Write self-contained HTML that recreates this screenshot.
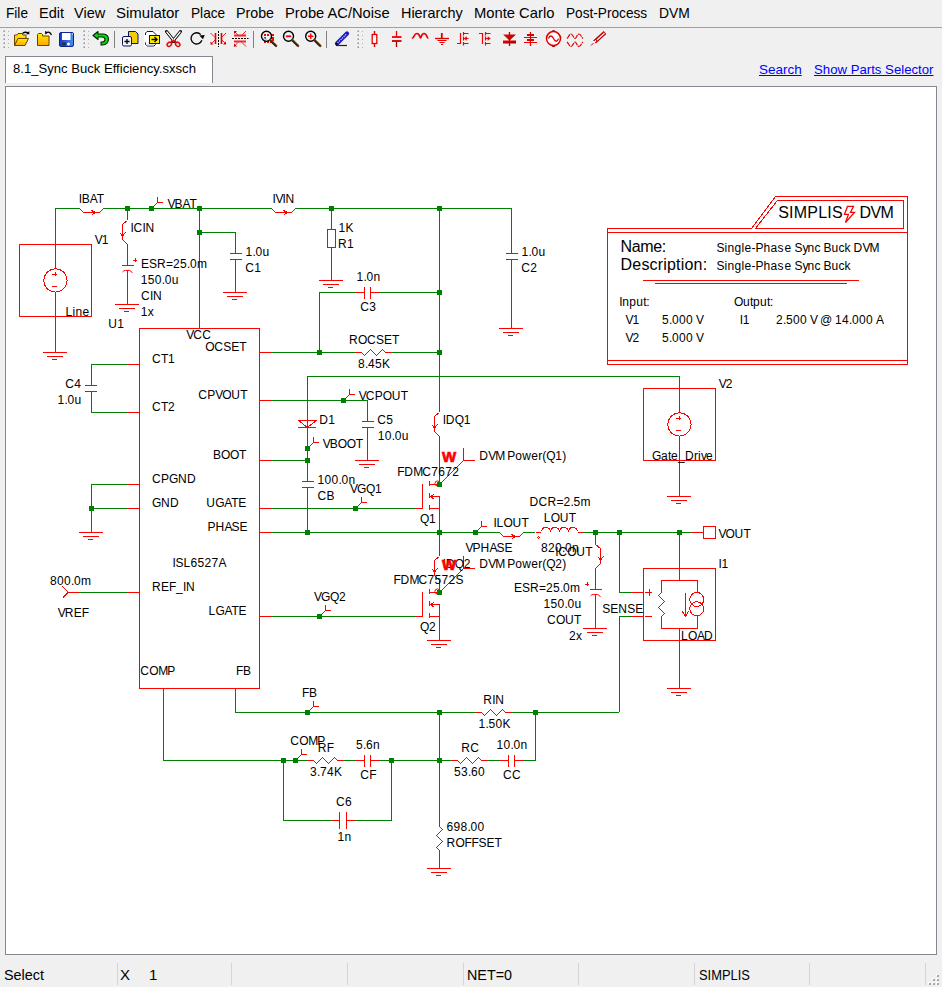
<!DOCTYPE html>
<html><head><meta charset="utf-8"><title>SIMPLIS</title>
<style>
html,body{margin:0;padding:0;}
body{width:942px;height:987px;background:#f0f0f0;position:relative;overflow:hidden;font-family:"Liberation Sans",sans-serif;color:#000;}
.menu span,.status span,.tab span,.lnk{transform-origin:0 0;}
.menu span{position:absolute;top:4px;font-size:15px;line-height:18px;white-space:nowrap;color:#000;}
.mline{position:absolute;left:0;top:27px;width:942px;height:1px;background:#a0a0a0;}
.tab{position:absolute;left:5px;top:56px;width:208px;height:27px;background:#fff;border-left:1px solid #828790;border-top:1px solid #828790;border-right:1px solid #828790;box-sizing:border-box;}
.tab span{position:absolute;left:7px;top:4px;font-size:13.1px;line-height:15px;white-space:nowrap;}
.lnk{position:absolute;top:62px;font-size:13.5px;line-height:15px;color:#0000ff;text-decoration:underline;white-space:nowrap;}
.canvas{position:absolute;left:5px;top:86px;width:932px;height:869px;background:#fff;border:1px solid #828790;box-sizing:border-box;}
.status span{position:absolute;top:966px;font-size:15px;line-height:18px;white-space:nowrap;color:#000;}
.status i{position:absolute;top:963px;width:1px;height:22px;background:#d4d4d4;}
svg{position:absolute;left:0;top:0;}
</style></head>
<body>
<div class="menu">
<span style="left:5.5px;transform:scaleX(.91)">File</span><span style="left:38.5px;transform:scaleX(.967)">Edit</span><span style="left:74px;transform:scaleX(.97)">View</span><span style="left:116px">Simulator</span><span style="left:190.5px;transform:scaleX(.91)">Place</span><span style="left:235.5px;transform:scaleX(.95)">Probe</span><span style="left:285px;transform:scaleX(.98)">Probe AC/Noise</span><span style="left:401px;transform:scaleX(.96)">Hierarchy</span><span style="left:474px;transform:scaleX(.984)">Monte Carlo</span><span style="left:566px;transform:scaleX(.91)">Post-Process</span><span style="left:659px;transform:scaleX(.925)">DVM</span>
</div>
<div class="mline"></div>
<div class="tab"><span>8.1_Sync Buck Efficiency.sxsch</span></div>
<span class="lnk" style="left:759px">Search</span><span class="lnk" style="left:813.5px;transform:scaleX(.977)">Show Parts Selector</span>
<div class="canvas"></div>
<div class="status">
<span style="left:4px;transform:scaleX(.96)">Select</span><span style="left:120px">X</span><span style="left:149px">1</span><span style="left:467px;transform:scaleX(.955)">NET=0</span><span style="left:698.5px;transform:scaleX(.86)">SIMPLIS</span>
<i style="left:117px"></i><i style="left:231px"></i><i style="left:347px"></i><i style="left:463px"></i><i style="left:578px"></i><i style="left:694px"></i><i style="left:809px"></i><i style="left:925px"></i>
</div>
<svg id="tb" width="942" height="56" viewBox="0 0 942 56">
<defs>
<linearGradient id="gy" x1="0" y1="0" x2="0" y2="1"><stop offset="0" stop-color="#ffee00"/><stop offset="1" stop-color="#ffa800"/></linearGradient>
<linearGradient id="gb" x1="0" y1="0" x2="1" y2="0"><stop offset="0" stop-color="#1038c8"/><stop offset="1" stop-color="#4a8cf0"/></linearGradient>
<linearGradient id="gr" x1="0" y1="0" x2="1" y2="1"><stop offset="0" stop-color="#ff0000"/><stop offset="1" stop-color="#900000"/></linearGradient>
</defs>
<g transform="translate(3 30)"><path d="M0 0h2v2h-2zM0 4h2v2h-2zM0 8h2v2h-2zM0 12h2v2h-2zM0 16h2v2h-2z" fill="#c8c8c8"/><path d="M1 1h1v1h-1zM1 5h1v1h-1zM1 9h1v1h-1zM1 13h1v1h-1zM1 17h1v1h-1z" fill="#909090"/><path d="M5 1h1v1h-1zM5 5h1v1h-1zM5 9h1v1h-1zM5 13h1v1h-1zM5 17h1v1h-1z" fill="#b0b0b0"/></g><g transform="translate(83 30)"><path d="M0 0h2v2h-2zM0 4h2v2h-2zM0 8h2v2h-2zM0 12h2v2h-2zM0 16h2v2h-2z" fill="#c8c8c8"/><path d="M1 1h1v1h-1zM1 5h1v1h-1zM1 9h1v1h-1zM1 13h1v1h-1zM1 17h1v1h-1z" fill="#909090"/><path d="M5 1h1v1h-1zM5 5h1v1h-1zM5 9h1v1h-1zM5 13h1v1h-1zM5 17h1v1h-1z" fill="#b0b0b0"/></g><g transform="translate(357 30)"><path d="M0 0h2v2h-2zM0 4h2v2h-2zM0 8h2v2h-2zM0 12h2v2h-2zM0 16h2v2h-2z" fill="#c8c8c8"/><path d="M1 1h1v1h-1zM1 5h1v1h-1zM1 9h1v1h-1zM1 13h1v1h-1zM1 17h1v1h-1z" fill="#909090"/><path d="M5 1h1v1h-1zM5 5h1v1h-1zM5 9h1v1h-1zM5 13h1v1h-1zM5 17h1v1h-1z" fill="#b0b0b0"/></g>
<!-- open folder -->
<path d="M14.5 45.5V35h2.5l1-1.5h4l1 1.5h3v3.5" fill="url(#gy)" stroke="#6a4200" stroke-width="1"/>
<path d="M14.5 45.5L18 38.5h10.5L25 45.5z" fill="url(#gy)" stroke="#6a4200" stroke-width="1" stroke-linejoin="round"/>
<path d="M22.5 33.5q3-2.5 6 0" fill="none" stroke="#000" stroke-width="1.3"/><path d="M29.3 31v3.3h-3.3z" fill="#000"/>
<!-- folder up -->
<path d="M37.5 45.5V34.5l1-1h3l1 1v1.5h6.500v9.500z" fill="url(#gy)" stroke="#6a4200" stroke-width="1" stroke-linejoin="round"/>
<path d="M46.500 32.500q3-1.500 5 2.500" fill="none" stroke="#000" stroke-width="1.3"/><path d="M45 31l.3 3.400 3-1.800z" fill="#000"/>
<!-- floppy -->
<rect x="59.500" y="32.500" width="14" height="14" rx="1.500" fill="url(#gb)" stroke="#0a2490" stroke-width="1"/>
<rect x="62" y="33" width="8.500" height="7" fill="#fff"/><rect x="62" y="42.500" width="4" height="3" fill="#303030"/><circle cx="68.500" cy="44" r="1.500" fill="#fff"/><rect x="72" y="33.500" width="1" height="1" fill="#fff"/>
<!-- undo -->
<path d="M93 35.500l5-4v2.500h5.500q5 .5 5 5.500q-.5 5-6 5.500h-1.500v-3h1.500q2.500-.5 2.500-2.500q0-2-2.500-2.500h-4.500v2.500z" fill="#10d010" stroke="#002800" stroke-width="1.100" stroke-linejoin="round"/>
<path d="M114.500 31v17" stroke="#808080" stroke-width="1"/>
<!-- duplicate -->
<path d="M128.500 31.500h7l2.500 2.500v9.500h-9.500z" fill="#f0d000" stroke="#101060" stroke-width="1" stroke-linejoin="round"/>
<rect x="122.500" y="36.500" width="9" height="9.500" rx="1.500" fill="#f4f4f8" stroke="#101060" stroke-width="1"/>
<path d="M124.500 41.500h5M127 39v5" stroke="#000" stroke-width="1.300"/>
<!-- copy out -->
<rect x="144" y="31" width="15.500" height="16" fill="#fff"/>
<path d="M145.500 35v-2l1.500-1.500h6l3 3v1M145.500 42.500v2l1.500 1.500h7l1.500-1.500v-1" fill="none" stroke="#101060" stroke-width="1" stroke-linejoin="round"/>
<path d="M146 45h8" stroke="#c8c8d8" stroke-width="1"/>
<rect x="149.500" y="35.500" width="10" height="8" fill="#ffee00" stroke="#101060" stroke-width="1"/>
<path d="M151.500 39.500h5M154.500 37l2.500 2.500l-2.500 2.500" stroke="#000" stroke-width="1.300" fill="none"/>
<!-- scissors -->
<path d="M166.500 31.500l8 10M180.500 31.500l-8 10" stroke="#000" stroke-width="3" stroke-linecap="round"/>
<path d="M166.900 32l7.300 9M180.100 32l-7.300 9" stroke="#fff" stroke-width="1.300" stroke-linecap="round"/>
<ellipse cx="169.300" cy="44.300" rx="2.400" ry="1.900" fill="#c8e8f0" stroke="#f00000" stroke-width="1.400" transform="rotate(-40 169.300 44.300)"/>
<ellipse cx="177.700" cy="44.300" rx="2.400" ry="1.900" fill="#c8e8f0" stroke="#f00000" stroke-width="1.400" transform="rotate(40 177.700 44.300)"/>
<path d="M171.500 42.300l2-2l2 2" stroke="#f00000" stroke-width="1.600" fill="none"/>
<!-- rotate -->
<path d="M200.800 34.600A5.600 5.600 0 1 0 201.900 40.300" fill="none" stroke="#000" stroke-width="1.300"/><path d="M199.300 35.600l5.400-.600l-1.700 4.200z" fill="#000"/>
<!-- mirror -->
<path d="M218.500 31v16" stroke="#000" stroke-width="1" stroke-dasharray="2 1"/>
<path d="M215.500 33v11M221.500 33v11" stroke="#e00000" stroke-width="1.600"/>
<path d="M210.500 33l4.500 4.500M226 33l-4.500 4.500M215 40l-4 4M222 40l4 4" stroke="#ff2020" stroke-width="1"/>
<path d="M210.500 41.500v3h3zM226 41.500v3h-3z" fill="#c00000"/>
<!-- flip -->
<path d="M232 38.500h16.500" stroke="#000" stroke-width="1" stroke-dasharray="2 1"/>
<path d="M234 35.500h12M234 41.500h12" stroke="#ff2020" stroke-width="1.800"/>
<path d="M234 31l4 4M246 31l-4 4M238 42.500l-4 4M242 42.500l4 4" stroke="#ff2020" stroke-width="1"/>
<path d="M234 31h3l-3 3zM234 46.500v-3l3 3z" fill="#c00000"/>
<path d="M253.500 31v17" stroke="#808080" stroke-width="1"/>
<!-- zoom icons -->
<path d="M264 34h2v2h-2zM267 34h2v2h-2zM264 37h2v2h-2zM271 34h3v2h-3zM271 37h3v2h-3zM264 41h2v2h-2zM267 41h2v2h-2zM270 41h2v2h-2zM272 39h2v2h-2z" fill="#ff0000"/>
<g transform="translate(266.500 36.300)"><circle cx="0" cy="0" r="5" fill="none" stroke="#000" stroke-width="1.400"/><path d="M3.800 3.800L9.600 9.600" stroke="#5a3a10" stroke-width="2.400" stroke-linecap="round"/><path d="M3.600 4.400L9 9.800" stroke="#000" stroke-width=".8"/><path d="M-3 1.500q1.500 2 3.500 2" stroke="#9ad8f8" stroke-width="1.200" fill="none"/></g>
<g transform="translate(288.500 36.300)"><circle cx="0" cy="0" r="5" fill="#eaf6ff" stroke="#000" stroke-width="1.4"/><path d="M3.8 3.8L9.6 9.6" stroke="#5a3a10" stroke-width="2.4" stroke-linecap="round"/><path d="M3.6 4.4L9 9.8" stroke="#000" stroke-width=".8"/></g><path d="M285.800 36.300h5.400" stroke="#ff0000" stroke-width="1.800"/>
<g transform="translate(310.700 36.300)"><circle cx="0" cy="0" r="5" fill="#eaf6ff" stroke="#000" stroke-width="1.4"/><path d="M3.8 3.8L9.6 9.6" stroke="#5a3a10" stroke-width="2.4" stroke-linecap="round"/><path d="M3.6 4.4L9 9.8" stroke="#000" stroke-width=".8"/></g><path d="M308 36.300h5.400M310.700 33.600v5.400" stroke="#ff0000" stroke-width="1.500"/>
<path d="M326.500 31v17" stroke="#808080" stroke-width="1"/>
<!-- pencil -->
<path d="M336 45.500h11" stroke="#202020" stroke-width="1.200"/>
<path d="M337 43.500L347 33.500" stroke="#1a1ac8" stroke-width="4.200" stroke-linecap="round"/>
<path d="M337.500 43L346.500 34" stroke="#d8e0ff" stroke-width="1.200" stroke-dasharray="1.200 1"/>
<path d="M335.500 45l.8-2.800 2 2z" fill="#000"/>
<!-- resistor -->
<path d="M374.500 31v16" stroke="#e00000" stroke-width="1.400"/><rect x="372.200" y="34.500" width="4.600" height="9" fill="#fff" stroke="#e80000" stroke-width="1.300"/>
<!-- capacitor -->
<path d="M396.500 31v6" stroke="#f00000" stroke-width="1.300"/><path d="M396.500 41v6" stroke="#a00000" stroke-width="1.300"/>
<path d="M392 37h9.500" stroke="#f00000" stroke-width="1.800"/><path d="M392 41h9.500" stroke="url(#gr)" stroke-width="1.800"/><path d="M392 41.010h9.500" stroke="#c00000" stroke-width="1.800"/>
<!-- inductor -->
<path d="M412.500 38c1.500 0 1.500-4.500 4.500-4.500s2.500 4.500 3.500 4.500s.500-4.500 3.500-4.500s3 4.500 3.800 4.500" fill="none" stroke="#e80000" stroke-width="1.700" stroke-linecap="round"/>
<!-- ground -->
<path d="M441.800 33v5" stroke="#d00000" stroke-width="1.800"/><path d="M435 38.500h14" stroke="#e00000" stroke-width="1.300"/><path d="M437.500 40.500h9M439.500 42.500h5M441 44.500h2" stroke="#e80000" stroke-width="1.100"/>
<!-- nmos -->
<path d="M457 43.500h3.500V33M463.500 32v3.500M463.500 36.500v4M463.500 42v3.500M463.500 33.500h5M463.500 43.500h5M465 38.500h3.500" fill="none" stroke="#f00000" stroke-width="1.200"/><path d="M463.800 38.500l3-2.200v4.400z" fill="#f00000"/>
<!-- pmos -->
<path d="M479 33.500h3.500V44M485.500 32v3.500M485.500 36.500v4M485.500 42v3.500M485.500 33.500h5M485.500 43.500h5M485.500 38.500h3" fill="none" stroke="#f00000" stroke-width="1.200"/><path d="M490.700 38.500l-3-2.200v4.400z" fill="#f00000"/>
<!-- diode -->
<path d="M509.500 32v14" stroke="#c00000" stroke-width="1.300"/><path d="M503 34.500h13l-6.500 6z" fill="url(#gr)"/><rect x="503" y="40.500" width="13" height="3" fill="url(#gr)"/>
<!-- battery -->
<path d="M530.500 32v14" stroke="#e00000" stroke-width="1.200"/><path d="M527 35h7M527 40h7" stroke="#d80000" stroke-width="2"/><path d="M524 37.500h13M524 42.500h13" stroke="#f00000" stroke-width="1"/>
<!-- ac source -->
<circle cx="553.500" cy="38.600" r="7" fill="#fff" stroke="#e00000" stroke-width="1.500"/><path d="M551.500 31.300h4l-1 -1h-2zM551.500 46h4l-1 1h-2z" fill="#b00000"/>
<path d="M548.500 38.600c1-3.500 3.500-3.500 5 0s4 3.500 5 0" fill="none" stroke="#e00000" stroke-width="1.300"/>
<!-- waves -->
<path d="M567 38.500c1.500-1 2-4.500 4-4.500s2.500 4.500 4 4.500s2-4.500 4-4.500s2.500 3.500 4 4.500" fill="none" stroke="#e00000" stroke-width="1.200" stroke-dasharray="5 .8"/>
<path d="M567 42c1.500 1 2 4.500 4 4.500s2.500-4.500 4-4.500s2 4.500 4 4.500s2.500-3.500 4-4.500" fill="none" stroke="#e00000" stroke-width="1.200" stroke-dasharray="5 .8"/>
<!-- probe -->
<path d="M591 45.500l3-3" stroke="#e00000" stroke-width="1"/><path d="M594.500 42L605 32.500" stroke="#c00000" stroke-width="4"/><path d="M597 40L604.500 33" stroke="#f4f4f4" stroke-width="1.200"/><path d="M593.500 43l2.500-2.500" stroke="#fff" stroke-width="1.500"/>

</svg>
<svg id="sch" width="942" height="987" viewBox="0 0 942 987" shape-rendering="crispEdges">
<rect x="936" y="974" width="2" height="2" fill="#fff"/><rect x="937" y="975" width="2" height="2" fill="#a8a8a8"/><rect x="932" y="978" width="2" height="2" fill="#fff"/><rect x="933" y="979" width="2" height="2" fill="#a8a8a8"/><rect x="936" y="978" width="2" height="2" fill="#fff"/><rect x="937" y="979" width="2" height="2" fill="#a8a8a8"/><rect x="928" y="982" width="2" height="2" fill="#fff"/><rect x="929" y="983" width="2" height="2" fill="#a8a8a8"/><rect x="932" y="982" width="2" height="2" fill="#fff"/><rect x="933" y="983" width="2" height="2" fill="#a8a8a8"/><rect x="936" y="982" width="2" height="2" fill="#fff"/><rect x="937" y="983" width="2" height="2" fill="#a8a8a8"/><g transform="translate(.45,.45)" fill="none" stroke-width="1"><path d="M55 232L55 208L79 208" stroke="#008000" fill="none" />
<path d="M79 208L83 212L99 212L103 208" stroke="#ff0000" fill="none" />
<path d="M91 210L93 211" stroke="#ff0000" fill="none" />
<rect x="91.55" y="213.55" width="1" height="1" fill="#ff0000" stroke="none"/>
<rect x="92.55" y="210.55" width="2" height="3" fill="#ff0000" stroke="none"/>
<path d="M103 208L271 208" stroke="#008000" fill="none" />
<path d="M271 208L275 212L291 212L295 208" stroke="#ff0000" fill="none" />
<path d="M283 210L285 211" stroke="#ff0000" fill="none" />
<rect x="283.55" y="213.55" width="1" height="1" fill="#ff0000" stroke="none"/>
<rect x="284.55" y="210.55" width="2" height="3" fill="#ff0000" stroke="none"/>
<path d="M295 208L511 208L511 244" stroke="#008000" fill="none" />
<path d="M55 232L55 268" stroke="#ff0000" fill="none" />
<path d="M55 293L55 328" stroke="#ff0000" fill="none" />
<rect x="19" y="244" width="72" height="72" fill="none" stroke="#ff0000"/>
<circle cx="55" cy="280" r="11.6" fill="none" stroke="#ff0000"/>
<path d="M52 274L57 274" stroke="#ff0000" fill="none" />
<path d="M55 272L55 276" stroke="#ff0000" fill="none" />
<path d="M52 286L57 286" stroke="#ff0000" fill="none" />
<path d="M55 328L55 340" stroke="#008000" fill="none" />
<path d="M55 340L55 352" stroke="#ff0000" fill="none" />
<path d="M43 352L67 352" stroke="#ff0000" fill="none" />
<path d="M47 356L63 356" stroke="#ff0000" fill="none" />
<path d="M52 359L57 359" stroke="#ff0000" fill="none" />
<path d="M127 208L127 220" stroke="#008000" fill="none" />
<path d="M127 220L122 224L122 239L127 244" stroke="#ff0000" fill="none" />
<path d="M120 233L122 236" stroke="#ff0000" fill="none" />
<path d="M125 232L123 234" stroke="#ff0000" fill="none" />
<rect x="121.55" y="233.55" width="2" height="2" fill="#ff0000" stroke="none"/>
<path d="M127 244L127 256" stroke="#008000" fill="none" />
<path d="M127 256L127 265" stroke="#ff0000" fill="none" />
<path d="M122 265L134 265" stroke="#ff0000" fill="none" />
<path d="M122 271.6Q123 270 125 270L129 270Q131 270.5 132 272.5" stroke="#ff0000" fill="none" shape-rendering="auto"/>
<path d="M127 270L127 280" stroke="#ff0000" fill="none" />
<path d="M133 260L137 260" stroke="#ff0000" fill="none" />
<path d="M135 258L135 262" stroke="#ff0000" fill="none" />
<path d="M127 280L127 292" stroke="#008000" fill="none" />
<path d="M127 292L127 304" stroke="#ff0000" fill="none" />
<path d="M115 304L139 304" stroke="#ff0000" fill="none" />
<path d="M119 308L135 308" stroke="#ff0000" fill="none" />
<path d="M124 311L129 311" stroke="#ff0000" fill="none" />
<path d="M153 206L157 202" stroke="#ff0000" fill="none" />
<path d="M157 202L157 197" stroke="#ff0000" fill="none" />
<path d="M157 202L163 202" stroke="#ff0000" fill="none" />
<path d="M199 208L199 316" stroke="#008000" fill="none" />
<path d="M199 316L199 328" stroke="#ff0000" fill="none" />
<path d="M199 232L235 232L235 244" stroke="#008000" fill="none" />
<path d="M235 244L235 253" stroke="#ff0000" fill="none" />
<path d="M230 253L242 253" stroke="#ff0000" fill="none" />
<path d="M230 259L242 259" stroke="#ff0000" fill="none" />
<path d="M235 259L235 268" stroke="#ff0000" fill="none" />
<path d="M235 268L235 280" stroke="#008000" fill="none" />
<path d="M235 280L235 292" stroke="#ff0000" fill="none" />
<path d="M223 292L247 292" stroke="#ff0000" fill="none" />
<path d="M227 296L243 296" stroke="#ff0000" fill="none" />
<path d="M232 299L237 299" stroke="#ff0000" fill="none" />
<path d="M331 208L331 220" stroke="#008000" fill="none" />
<path d="M331 220L331 229" stroke="#ff0000" fill="none" />
<rect x="327" y="229" width="8" height="18" fill="none" stroke="#ff0000"/>
<path d="M331 247L331 256" stroke="#ff0000" fill="none" />
<path d="M331 256L331 268" stroke="#008000" fill="none" />
<path d="M331 268L331 280" stroke="#ff0000" fill="none" />
<path d="M319 280L343 280" stroke="#ff0000" fill="none" />
<path d="M323 284L339 284" stroke="#ff0000" fill="none" />
<path d="M328 287L333 287" stroke="#ff0000" fill="none" />
<path d="M439 208L439 412" stroke="#008000" fill="none" />
<path d="M439 412L434 416L434 431L439 436" stroke="#ff0000" fill="none" />
<path d="M432 425L434 428" stroke="#ff0000" fill="none" />
<path d="M437 424L435 426" stroke="#ff0000" fill="none" />
<rect x="433.55" y="425.55" width="2" height="2" fill="#ff0000" stroke="none"/>
<path d="M439 436L439 484" stroke="#008000" fill="none" />
<path d="M511 244L511 253" stroke="#ff0000" fill="none" />
<path d="M506 253L518 253" stroke="#ff0000" fill="none" />
<path d="M506 259L518 259" stroke="#ff0000" fill="none" />
<path d="M511 259L511 268" stroke="#ff0000" fill="none" />
<path d="M511 268L511 316" stroke="#008000" fill="none" />
<path d="M511 316L511 328" stroke="#ff0000" fill="none" />
<path d="M499 328L523 328" stroke="#ff0000" fill="none" />
<path d="M503 332L519 332" stroke="#ff0000" fill="none" />
<path d="M508 335L513 335" stroke="#ff0000" fill="none" />
<path d="M319 352L319 292L355 292" stroke="#008000" fill="none" />
<path d="M355 292L364 292" stroke="#ff0000" fill="none" />
<path d="M364 287L364 299" stroke="#ff0000" fill="none" />
<path d="M370 287L370 299" stroke="#ff0000" fill="none" />
<path d="M370 292L379 292" stroke="#ff0000" fill="none" />
<path d="M379 292L439 292" stroke="#008000" fill="none" />
<path d="M259 352L271 352" stroke="#ff0000" fill="none" />
<path d="M271 352L355 352" stroke="#008000" fill="none" />
<path d="M355 352L361 352L364 355L370 349L376 355L382 349L385 352L391 352" stroke="#ff0000" fill="none" />
<path d="M391 352L439 352" stroke="#008000" fill="none" />
<rect x="139" y="328" width="120" height="360" fill="none" stroke="#ff0000"/>
<path d="M127 364L139 364" stroke="#ff0000" fill="none" />
<path d="M127 412L139 412" stroke="#ff0000" fill="none" />
<path d="M127 484L139 484" stroke="#ff0000" fill="none" />
<path d="M127 508L139 508" stroke="#ff0000" fill="none" />
<path d="M127 592L139 592" stroke="#ff0000" fill="none" />
<path d="M259 400L271 400" stroke="#ff0000" fill="none" />
<path d="M259 460L271 460" stroke="#ff0000" fill="none" />
<path d="M259 508L271 508" stroke="#ff0000" fill="none" />
<path d="M259 532L271 532" stroke="#ff0000" fill="none" />
<path d="M259 616L271 616" stroke="#ff0000" fill="none" />
<path d="M127 364L91 364L91 377" stroke="#008000" fill="none" />
<path d="M91 377L91 385" stroke="#ff0000" fill="none" />
<path d="M85 385L97 385" stroke="#ff0000" fill="none" />
<path d="M85 391L97 391" stroke="#ff0000" fill="none" />
<path d="M91 391L91 401" stroke="#ff0000" fill="none" />
<path d="M91 401L91 412L127 412" stroke="#008000" fill="none" />
<path d="M127 484L91 484L91 520" stroke="#008000" fill="none" />
<path d="M91 508L127 508" stroke="#008000" fill="none" />
<path d="M91 520L91 532" stroke="#ff0000" fill="none" />
<path d="M79 532L103 532" stroke="#ff0000" fill="none" />
<path d="M83 536L99 536" stroke="#ff0000" fill="none" />
<path d="M88 539L93 539" stroke="#ff0000" fill="none" />
<path d="M79 592L127 592" stroke="#008000" fill="none" />
<path d="M68 592L79 592" stroke="#ff0000" fill="none" />
<path d="M62 586L68 592L62 598" stroke="#ff0000" fill="none" />
<path d="M62 597L67 592" stroke="#ff0000" fill="none" />
<path d="M271 400L367 400L367 412" stroke="#008000" fill="none" />
<path d="M345 398L349 394" stroke="#ff0000" fill="none" />
<path d="M349 394L349 389" stroke="#ff0000" fill="none" />
<path d="M349 394L355 394" stroke="#ff0000" fill="none" />
<path d="M367 412L367 421" stroke="#ff0000" fill="none" />
<path d="M362 421L374 421" stroke="#ff0000" fill="none" />
<path d="M362 427L374 427" stroke="#ff0000" fill="none" />
<path d="M367 427L367 436" stroke="#ff0000" fill="none" />
<path d="M367 436L367 448" stroke="#008000" fill="none" />
<path d="M367 448L367 460" stroke="#ff0000" fill="none" />
<path d="M355 460L379 460" stroke="#ff0000" fill="none" />
<path d="M359 464L375 464" stroke="#ff0000" fill="none" />
<path d="M364 467L369 467" stroke="#ff0000" fill="none" />
<path d="M271 460L307 460" stroke="#008000" fill="none" />
<path d="M679 376L307 376L307 412" stroke="#008000" fill="none" />
<path d="M307 412L307 436" stroke="#ff0000" fill="none" />
<path d="M298 420L316 420L307 427L298 420" stroke="#ff0000" fill="none" />
<path d="M298 427L316 427" stroke="#ff0000" fill="none" />
<path d="M307 436L307 472" stroke="#008000" fill="none" />
<path d="M309 446L313 442" stroke="#ff0000" fill="none" />
<path d="M313 442L313 437" stroke="#ff0000" fill="none" />
<path d="M313 442L319 442" stroke="#ff0000" fill="none" />
<path d="M307 472L307 481" stroke="#ff0000" fill="none" />
<path d="M302 481L314 481" stroke="#ff0000" fill="none" />
<path d="M302 487L314 487" stroke="#ff0000" fill="none" />
<path d="M307 487L307 496" stroke="#ff0000" fill="none" />
<path d="M307 496L307 532" stroke="#008000" fill="none" />
<path d="M679 376L679 412" stroke="#ff0000" fill="none" />
<path d="M679 437L679 472" stroke="#ff0000" fill="none" />
<rect x="643" y="388" width="72" height="72" fill="none" stroke="#ff0000"/>
<circle cx="679" cy="424" r="11.6" fill="none" stroke="#ff0000"/>
<path d="M676 418L681 418" stroke="#ff0000" fill="none" />
<path d="M679 416L679 420" stroke="#ff0000" fill="none" />
<path d="M676 430L681 430" stroke="#ff0000" fill="none" />
<path d="M679 472L679 484" stroke="#008000" fill="none" />
<path d="M679 484L679 496" stroke="#ff0000" fill="none" />
<path d="M667 496L691 496" stroke="#ff0000" fill="none" />
<path d="M671 500L687 500" stroke="#ff0000" fill="none" />
<path d="M676 503L681 503" stroke="#ff0000" fill="none" />
<path d="M271 508L415 508" stroke="#008000" fill="none" />
<path d="M357 506L361 502" stroke="#ff0000" fill="none" />
<path d="M361 502L361 497" stroke="#ff0000" fill="none" />
<path d="M361 502L367 502" stroke="#ff0000" fill="none" />
<path d="M415 508L422 508L422 484" stroke="#ff0000" fill="none" />
<path d="M429 481L429 486" stroke="#ff0000" fill="none" />
<path d="M429 493L429 498" stroke="#ff0000" fill="none" />
<path d="M429 505L429 510" stroke="#ff0000" fill="none" />
<path d="M429 484L439 484" stroke="#ff0000" fill="none" />
<path d="M429 496L439 496L439 508L429 508" stroke="#ff0000" fill="none" />
<path d="M434 494L430 496" stroke="#ff0000" fill="none" />
<path d="M430 496L434 499" stroke="#ff0000" fill="none" />
<circle cx="437" cy="483" r="2.5" fill="none" stroke="#ff0000" shape-rendering="auto"/>
<path d="M271 532L499 532" stroke="#008000" fill="none" />
<path d="M477 530L481 526" stroke="#ff0000" fill="none" />
<path d="M481 526L481 521" stroke="#ff0000" fill="none" />
<path d="M481 526L487 526" stroke="#ff0000" fill="none" />
<path d="M499 532L503 536L519 536L523 532" stroke="#ff0000" fill="none" />
<path d="M511 534L513 535" stroke="#ff0000" fill="none" />
<rect x="511.55" y="537.55" width="1" height="1" fill="#ff0000" stroke="none"/>
<rect x="512.55" y="534.55" width="2" height="3" fill="#ff0000" stroke="none"/>
<path d="M523 532L535 532" stroke="#008000" fill="none" />
<path d="M536 532L541 532M541 531C542 525.6,549 525.6,550 531C551 525.6,558 525.6,559 531C560 525.6,567 525.6,568 531C569 525.6,576 525.6,577 531M578 532L583 532" stroke="#ff0000" fill="none" />
<rect x="537.55" y="535.55" width="1" height="1" fill="#ff0000" stroke="none"/>
<rect x="536.55" y="536.55" width="1" height="1" fill="#ff0000" stroke="none"/>
<rect x="538.55" y="536.55" width="1" height="1" fill="#ff0000" stroke="none"/>
<rect x="537.55" y="537.55" width="1" height="1" fill="#ff0000" stroke="none"/>
<path d="M583 532L691 532" stroke="#008000" fill="none" />
<path d="M691 532L703 532" stroke="#ff0000" fill="none" />
<rect x="703" y="526" width="12" height="12" fill="none" stroke="#ff0000"/>
<path d="M271 616L415 616" stroke="#008000" fill="none" />
<path d="M321 614L325 610" stroke="#ff0000" fill="none" />
<path d="M325 610L325 605" stroke="#ff0000" fill="none" />
<path d="M325 610L331 610" stroke="#ff0000" fill="none" />
<path d="M415 616L422 616L422 592" stroke="#ff0000" fill="none" />
<path d="M429 589L429 594" stroke="#ff0000" fill="none" />
<path d="M429 601L429 606" stroke="#ff0000" fill="none" />
<path d="M429 613L429 618" stroke="#ff0000" fill="none" />
<path d="M429 592L439 592" stroke="#ff0000" fill="none" />
<path d="M429 604L439 604L439 616L429 616" stroke="#ff0000" fill="none" />
<path d="M434 602L430 604" stroke="#ff0000" fill="none" />
<path d="M430 604L434 607" stroke="#ff0000" fill="none" />
<circle cx="437" cy="591" r="2.5" fill="none" stroke="#ff0000" shape-rendering="auto"/>
<path d="M439 508L439 556" stroke="#008000" fill="none" />
<path d="M439 556L434 560L434 575L439 580" stroke="#ff0000" fill="none" />
<path d="M432 569L434 572" stroke="#ff0000" fill="none" />
<path d="M437 568L435 570" stroke="#ff0000" fill="none" />
<rect x="433.55" y="569.55" width="2" height="2" fill="#ff0000" stroke="none"/>
<path d="M439 580L439 592" stroke="#008000" fill="none" />
<path d="M439 616L439 628" stroke="#008000" fill="none" />
<path d="M439 628L439 640" stroke="#ff0000" fill="none" />
<path d="M427 640L451 640" stroke="#ff0000" fill="none" />
<path d="M431 644L447 644" stroke="#ff0000" fill="none" />
<path d="M436 647L441 647" stroke="#ff0000" fill="none" />
<path d="M441 482L463 460" stroke="#ff0000" fill="none" />
<path d="M463 460L463 448" stroke="#ff0000" fill="none" />
<path d="M463 460L475 460" stroke="#ff0000" fill="none" />
<path d="M441 590L463 568" stroke="#ff0000" fill="none" />
<path d="M463 568L463 556" stroke="#ff0000" fill="none" />
<path d="M463 568L475 568" stroke="#ff0000" fill="none" />
<path d="M595 532L595 544" stroke="#008000" fill="none" />
<path d="M595 544L600 548L600 563L595 568" stroke="#ff0000" fill="none" />
<path d="M598 557L600 560" stroke="#ff0000" fill="none" />
<path d="M603 556L601 558" stroke="#ff0000" fill="none" />
<rect x="599.55" y="557.55" width="2" height="2" fill="#ff0000" stroke="none"/>
<path d="M595 568L595 580" stroke="#008000" fill="none" />
<path d="M595 580L595 589" stroke="#ff0000" fill="none" />
<path d="M590 589L602 589" stroke="#ff0000" fill="none" />
<path d="M590 595.6Q591 594 593 594L597 594Q599 594.5 600 596.5" stroke="#ff0000" fill="none" shape-rendering="auto"/>
<path d="M595 594L595 604" stroke="#ff0000" fill="none" />
<path d="M585 584L589 584" stroke="#ff0000" fill="none" />
<path d="M587 582L587 586" stroke="#ff0000" fill="none" />
<path d="M595 604L595 616" stroke="#008000" fill="none" />
<path d="M595 616L595 628" stroke="#ff0000" fill="none" />
<path d="M583 628L607 628" stroke="#ff0000" fill="none" />
<path d="M587 632L603 632" stroke="#ff0000" fill="none" />
<path d="M592 635L597 635" stroke="#ff0000" fill="none" />
<path d="M619 532L619 592L631 592" stroke="#008000" fill="none" />
<path d="M631 592L643 592" stroke="#ff0000" fill="none" />
<path d="M631 616L619 616L619 712" stroke="#008000" fill="none" />
<path d="M631 616L643 616" stroke="#ff0000" fill="none" />
<path d="M679 532L679 556" stroke="#008000" fill="none" />
<path d="M679 556L679 580" stroke="#ff0000" fill="none" />
<rect x="643" y="568" width="72" height="72" fill="none" stroke="#ff0000"/>
<rect x="661" y="580" width="36" height="48" fill="none" stroke="#ff0000"/>
<rect x="655" y="591" width="12" height="26" fill="#fff" stroke="none"/>
<path d="M661 580L661 592L658 595L664 601L658 607L664 613L661 616L661 628" stroke="#ff0000" fill="none" />
<rect x="690" y="592" width="14" height="23" fill="#fff" stroke="none"/>
<circle cx="696.3" cy="599" r="7" fill="none" stroke="#ff0000"/><circle cx="696.3" cy="608.3" r="7" fill="none" stroke="#ff0000"/>
<path d="M697 580L697 592" stroke="#ff0000" fill="none" />
<path d="M697 615L697 628" stroke="#ff0000" fill="none" />
<path d="M685 593L685 616" stroke="#ff0000" fill="none" />
<path d="M682 611L685 616L688 611" stroke="#ff0000" fill="none" />
<path d="M645 592L652 592" stroke="#ff0000" fill="none" />
<path d="M649 589L649 596" stroke="#ff0000" fill="none" />
<path d="M645 616L652 616" stroke="#ff0000" fill="none" />
<path d="M679 628L679 652" stroke="#ff0000" fill="none" />
<path d="M679 652L679 676" stroke="#008000" fill="none" />
<path d="M679 676L679 688" stroke="#ff0000" fill="none" />
<path d="M667 688L691 688" stroke="#ff0000" fill="none" />
<path d="M671 692L687 692" stroke="#ff0000" fill="none" />
<path d="M676 695L681 695" stroke="#ff0000" fill="none" />
<path d="M163 688L163 700" stroke="#ff0000" fill="none" />
<path d="M163 700L163 760L307 760" stroke="#008000" fill="none" />
<path d="M297 758L301 754" stroke="#ff0000" fill="none" />
<path d="M301 754L301 749" stroke="#ff0000" fill="none" />
<path d="M301 754L307 754" stroke="#ff0000" fill="none" />
<path d="M307 760L313 760L316 763L322 757L328 763L334 757L337 760L343 760" stroke="#ff0000" fill="none" />
<path d="M343 760L355 760" stroke="#008000" fill="none" />
<path d="M355 760L364 760" stroke="#ff0000" fill="none" />
<path d="M364 755L364 767" stroke="#ff0000" fill="none" />
<path d="M370 755L370 767" stroke="#ff0000" fill="none" />
<path d="M370 760L379 760" stroke="#ff0000" fill="none" />
<path d="M379 760L451 760" stroke="#008000" fill="none" />
<path d="M451 760L457 760L460 763L466 757L472 763L478 757L481 760L487 760" stroke="#ff0000" fill="none" />
<path d="M487 760L499 760" stroke="#008000" fill="none" />
<path d="M499 760L508 760" stroke="#ff0000" fill="none" />
<path d="M508 755L508 767" stroke="#ff0000" fill="none" />
<path d="M514 755L514 767" stroke="#ff0000" fill="none" />
<path d="M514 760L523 760" stroke="#ff0000" fill="none" />
<path d="M523 760L535 760L535 712" stroke="#008000" fill="none" />
<path d="M235 688L235 700" stroke="#ff0000" fill="none" />
<path d="M235 700L235 712L475 712" stroke="#008000" fill="none" />
<path d="M309 710L313 706" stroke="#ff0000" fill="none" />
<path d="M313 706L313 701" stroke="#ff0000" fill="none" />
<path d="M313 706L319 706" stroke="#ff0000" fill="none" />
<path d="M475 712L481 712L484 715L490 709L496 715L502 709L505 712L511 712" stroke="#ff0000" fill="none" />
<path d="M511 712L619 712" stroke="#008000" fill="none" />
<path d="M283 760L283 820L331 820" stroke="#008000" fill="none" />
<path d="M331 820L339 820" stroke="#ff0000" fill="none" />
<path d="M339 812L339 829" stroke="#ff0000" fill="none" />
<path d="M346 812L346 829" stroke="#ff0000" fill="none" />
<path d="M346 820L355 820" stroke="#ff0000" fill="none" />
<path d="M355 820L391 820L391 760" stroke="#008000" fill="none" />
<path d="M439 712L439 820" stroke="#008000" fill="none" />
<path d="M439 820L439 826L442 829L436 835L442 841L436 847L439 850L439 856" stroke="#ff0000" fill="none" />
<path d="M439 856L439 868" stroke="#ff0000" fill="none" />
<path d="M427 868L451 868" stroke="#ff0000" fill="none" />
<path d="M431 872L447 872" stroke="#ff0000" fill="none" />
<path d="M436 875L441 875" stroke="#ff0000" fill="none" />
<path d="M607 228L751 228L775 196L907 196L907 364L607 364L607 228" stroke="#ff0000" fill="none" />
<path d="M755 228L777 200L903 200L903 228L755 228" stroke="#ff0000" fill="none" />
<path d="M607 232L907 232" stroke="#ff0000" fill="none" />
<path d="M607 360L907 360" stroke="#ff0000" fill="none" />
<path d="M643 280L859 280" stroke="#ff0000" fill="none" />
<path d="M655 283L847 283" stroke="#ff0000" fill="none" />
<path d="M847 206L853 206L850 212L854 212L845 222L848 214L844 214Z" stroke="#ff0000" fill="none" shape-rendering="auto" stroke-width="1.3"/>
<rect x="124.5" y="205.5" width="5" height="5" fill="#008000" stroke="none"/>
<rect x="148.5" y="205.5" width="5" height="5" fill="#008000" stroke="none"/>
<rect x="196.5" y="205.5" width="5" height="5" fill="#008000" stroke="none"/>
<rect x="196.5" y="229.5" width="5" height="5" fill="#008000" stroke="none"/>
<rect x="328.5" y="205.5" width="5" height="5" fill="#008000" stroke="none"/>
<rect x="436.5" y="205.5" width="5" height="5" fill="#008000" stroke="none"/>
<rect x="436.5" y="289.5" width="5" height="5" fill="#008000" stroke="none"/>
<rect x="316.5" y="349.5" width="5" height="5" fill="#008000" stroke="none"/>
<rect x="436.5" y="349.5" width="5" height="5" fill="#008000" stroke="none"/>
<rect x="88.5" y="505.5" width="5" height="5" fill="#008000" stroke="none"/>
<rect x="340.5" y="397.5" width="5" height="5" fill="#008000" stroke="none"/>
<rect x="304.5" y="445.5" width="5" height="5" fill="#008000" stroke="none"/>
<rect x="304.5" y="457.5" width="5" height="5" fill="#008000" stroke="none"/>
<rect x="304.5" y="529.5" width="5" height="5" fill="#008000" stroke="none"/>
<rect x="352.5" y="505.5" width="5" height="5" fill="#008000" stroke="none"/>
<rect x="436.5" y="481.5" width="5" height="5" fill="#008000" stroke="none"/>
<rect x="436.5" y="529.5" width="5" height="5" fill="#008000" stroke="none"/>
<rect x="472.5" y="529.5" width="5" height="5" fill="#008000" stroke="none"/>
<rect x="592.5" y="529.5" width="5" height="5" fill="#008000" stroke="none"/>
<rect x="616.5" y="529.5" width="5" height="5" fill="#008000" stroke="none"/>
<rect x="676.5" y="529.5" width="5" height="5" fill="#008000" stroke="none"/>
<rect x="316.5" y="613.5" width="5" height="5" fill="#008000" stroke="none"/>
<rect x="436.5" y="589.5" width="5" height="5" fill="#008000" stroke="none"/>
<rect x="280.5" y="757.5" width="5" height="5" fill="#008000" stroke="none"/>
<rect x="292.5" y="757.5" width="5" height="5" fill="#008000" stroke="none"/>
<rect x="388.5" y="757.5" width="5" height="5" fill="#008000" stroke="none"/>
<rect x="436.5" y="757.5" width="5" height="5" fill="#008000" stroke="none"/>
<rect x="304.5" y="709.5" width="5" height="5" fill="#008000" stroke="none"/>
<rect x="436.5" y="709.5" width="5" height="5" fill="#008000" stroke="none"/>
<rect x="532.5" y="709.5" width="5" height="5" fill="#008000" stroke="none"/></g>
<g font-family="Liberation Sans, sans-serif" font-size="12" fill="#000" shape-rendering="auto"><text x="78.7 81.7 89.7 96.7" y="203">IBAT</text>
<text x="167.4 174.4 182.4 189.4" y="208">VBAT</text>
<text x="272.4 275.4 282.4 285.4" y="203">IVIN</text>
<text x="130.6 133.6 142.6 145.6" y="232">ICIN</text>
<text x="94.8 101.8" y="244">V1</text>
<text x="141.1 149.1 157.1 166.1 173.1 180.1 187.1 190.1 197.1" y="268">ESR=25.0m</text>
<text x="140.7 147.7 154.7 161.7 164.7 171.7" y="284">150.0u</text>
<text x="141.1 150.1 153.1" y="300">CIN</text>
<text x="140.7 147.7" y="316">1x</text>
<text x="245.4 252.4 255.4 262.4" y="256">1.0u</text>
<text x="245.3 254.3" y="272">C1</text>
<text x="65.4 72.4 75.4 82.4" y="316">Line</text>
<text x="108.2 117.2" y="328">U1</text>
<text x="338.6 345.6" y="232">1K</text>
<text x="338.1 347.1" y="248">R1</text>
<text x="356.4 363.4 366.4 373.4" y="281">1.0n</text>
<text x="360.2 369.2" y="311">C3</text>
<text x="521.4 528.4 531.4 538.4" y="256">1.0u</text>
<text x="521.2 530.2" y="272">C2</text>
<text x="348.9 357.9 366.9 375.9 383.9 391.9" y="344">ROCSET</text>
<text x="358.1 365.1 368.1 375.1 382.1" y="368">8.45K</text>
<text x="186.2 193.2 202.2" y="339">VCC</text>
<text x="152 161 168" y="363">CT1</text>
<text x="152 161 168" y="411">CT2</text>
<text x="152.1 161.1 169.1 178.1 187.1" y="483">CPGND</text>
<text x="152.1 161.1 170.1" y="507">GND</text>
<text x="172.5 175.5 183.5 190.5 197.5 204.5 211.5 218.5" y="567">ISL6527A</text>
<text x="152.1 161.1 169.1 176.1 183.1 186.1" y="591">REF_IN</text>
<text x="140.3 149.3 158.3 167.3" y="675">COMP</text>
<text x="236.1 243.1" y="675">FB</text>
<text x="50.1 57.1 64.1 71.1 74.1 81.1" y="585">800.0m</text>
<text x="57.8 64.8 73.8 81.8" y="617">VREF</text>
<text x="319.2 328.2" y="424">D1</text>
<text x="322.8 329.8 337.8 346.8 355.8" y="448">VBOOT</text>
<text x="317.4 324.4 331.4 338.4 341.4 348.4" y="484">100.0n</text>
<text x="317.4 326.4" y="500">CB</text>
<text x="358.7 365.7 374.7 382.7 391.7 400.7" y="400">VCPOUT</text>
<text x="377.3 386.3" y="424">C5</text>
<text x="377.8 384.8 391.8 394.8 401.8" y="440">10.0u</text>
<text x="350.1 357.1 366.1 375.1" y="493">VGQ1</text>
<text x="442.7 445.7 454.7 463.7" y="424">IDQ1</text>
<text x="397.2 404.2 413.2 422.2 431.2 438.2 445.2 452.2" y="476">FDMC7672</text>
<text x="420.1 429.1" y="523">Q1</text>
<text x="479.3 488.3 495.3 504.3 507.3 515.3 522.3 531.3 538.3 542.3 546.3 555.3 562.3" y="460">DVM Power(Q1)</text>
<text x="493.6 496.6 503.6 512.6 521.6" y="527">ILOUT</text>
<text x="465.4 472.4 480.4 489.4 496.4 504.4" y="552">VPHASE</text>
<text x="529.4 538.4 547.4 556.4 563.4 570.4 573.4 580.4" y="506">DCR=2.5m</text>
<text x="543.8 550.8 559.8 568.8" y="522">LOUT</text>
<text x="541.1 548.1 555.1 562.1 565.1 572.1" y="552">820.0n</text>
<text x="555.2 558.2 567.2 576.2 585.2" y="556">ICOUT</text>
<text x="442.7 445.7 454.7 463.7" y="568">IDQ2</text>
<text x="479.3 488.3 495.3 504.3 507.3 515.3 522.3 531.3 538.3 542.3 546.3 555.3 562.3" y="568">DVM Power(Q2)</text>
<text x="393.4 400.4 409.4 418.4 427.4 434.4 441.4 448.4 455.4" y="584">FDMC7572S</text>
<text x="420.1 429.1" y="631">Q2</text>
<text x="313.9 320.9 329.9 338.9" y="601">VGQ2</text>
<text x="602.3 610.3 618.3 627.3 635.3" y="613">SENSE</text>
<text x="718.6 725.6 734.6 743.6" y="538">VOUT</text>
<text x="718.4 721.4" y="568">I1</text>
<text x="681 688 697 704" y="640">LOAD</text>
<text x="718.8 725.8" y="388">V2</text>
<text x="652.1 661.1 668.1 671.1 678.1 685.1 694.1 698.1 701.1 706.1" y="460">Gate_Drive</text>
<text x="302 309" y="697">FB</text>
<text x="290.2 299.2 308.2 317.2" y="745">COMP</text>
<text x="317.8 326.8" y="752">RF</text>
<text x="310 317 320 327 334" y="776">3.74K</text>
<text x="356.1 363.1 366.1 373.1" y="749">5.6n</text>
<text x="360.3 369.3" y="779">CF</text>
<text x="336 345" y="806">C6</text>
<text x="337.6 344.6" y="841">1n</text>
<text x="483.2 492.2 495.2" y="704">RIN</text>
<text x="478.4 485.4 488.4 495.4 502.4" y="728">1.50K</text>
<text x="461.2 470.2" y="752">RC</text>
<text x="454.1 461.1 468.1 471.1 478.1" y="776">53.60</text>
<text x="496.6 503.6 510.6 513.6 520.6" y="749">10.0n</text>
<text x="503.1 512.1" y="779">CC</text>
<text x="446.4 453.4 460.4 467.4 470.4 477.4" y="831">698.00</text>
<text x="446.4 455.4 464.4 471.4 478.4 486.4 494.4" y="847">ROFFSET</text>
<text x="619.2 622.2 629.2 636.2 643.2 646.2" y="306">Input:</text>
<text x="734.1 743.1 750.1 753.1 760.1 767.1 770.1" y="306">Output:</text>
<text x="625.6 632.6" y="324">V1</text>
<text x="661.9 668.9 671.9 678.9 685.9 692.9 695.9" y="324">5.000 V</text>
<text x="739.7 742.7" y="324">I1</text>
<text x="625.6 632.6" y="342">V2</text>
<text x="661.9 668.9 671.9 678.9 685.9 692.9 695.9" y="342">5.000 V</text>
<text x="205.3 214.3 223.3 231.3 239.3" y="351">OCSET</text>
<text x="198.2 207.2 215.2 222.2 231.2 240.2" y="399">CPVOUT</text>
<text x="213 221 230 239" y="459">BOOT</text>
<text x="206.2 215.2 224.2 231.2 238.2" y="507">UGATE</text>
<text x="207.4 215.4 224.4 231.4 239.4" y="531">PHASE</text>
<text x="208.4 215.4 224.4 231.4 238.4" y="615">LGATE</text>
<text x="65.3 74.3" y="388">C4</text>
<text x="57.6 64.6 67.6 74.6" y="404">1.0u</text>
<text x="514.1 522.1 530.1 539.1 546.1 553.1 560.1 563.1 570.1" y="592">ESR=25.0m</text>
<text x="543.6 550.6 557.6 564.6 567.6 574.6" y="608">150.0u</text>
<text x="546.9 555.9 564.9 573.9" y="624">COUT</text>
<text x="568.9 575.9" y="640">2x</text>
<text x="620.6" y="252" font-size="16" textLength="45.5">Name:</text>
<text x="620.6" y="270" font-size="16" textLength="86.5">Description:</text>
<text x="716.4 724.4 727.4 734.4 741.4 744.4 751.4 755.4 763.4 770.4 777.4 784.4 791.4 794.4 802.4 807.4 814.4 820.4 823.4 831.4 838.4 844.4 850.4 853.4 862.4 869.4" y="252">Single-Phase Sync Buck DVM</text>
<text x="716.4 724.4 727.4 734.4 741.4 744.4 751.4 755.4 763.4 770.4 777.4 784.4 791.4 794.4 802.4 807.4 814.4 820.4 823.4 831.4 838.4 844.4" y="270">Single-Phase Sync Buck</text>
<text x="776.1 783.1 786.1 793.1 800.1 807.1 810.1 817.1 820.1 832.1 835.1 842.1 849.1 852.1 859.1 866.1 873.1 876.1" y="324">2.500 V @ 14.000 A</text>
<text x="778.2" y="218" font-size="16" textLength="64.4">SIMPLIS</text>
<text x="859.4" y="218" font-size="16" textLength="34.4">DVM</text>
<text x="442" y="462" font-size="15" font-weight="bold" fill="#ff0000" stroke="#ff0000" stroke-width=".7">W</text>
<text x="442" y="570" font-size="15" font-weight="bold" fill="#ff0000" stroke="#ff0000" stroke-width=".7">W</text></g>
</svg>
</body></html>
